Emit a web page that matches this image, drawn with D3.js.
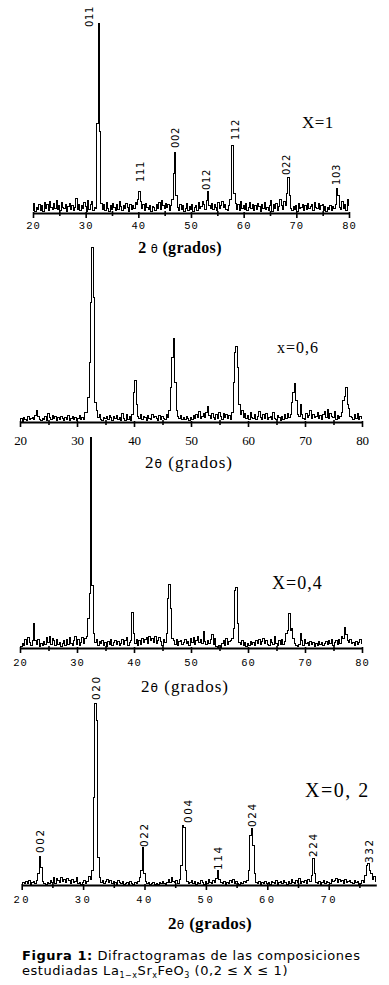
<!DOCTYPE html>
<html>
<head>
<meta charset="utf-8">
<script src="https://cdn.jsdelivr.net/npm/d3@7"></script>
<style>
  html, body { margin: 0; padding: 0; background: #fff; }
  svg { display: block; }
</style>
</head>
<body>
<svg id="chart" width="389" height="985"></svg>
<script>
// ---------------- DATA ----------------
const angleStart = 20;      // 2θ of first sample
const angleStep = 0.25;     // sampling step (degrees)
const tickValuesMajor = [20, 30, 40, 50, 60, 70, 80];
const tickValuesMinor = [25, 35, 45, 55, 65, 75];
const tickValuesMajorX02 = [20, 30, 40, 50, 60, 70];
const tickValuesMinorX02 = [25, 35, 45, 55, 65, 75];

// relative intensities (arbitrary units), one value every 0.25° from 20°
const intensityX1 = [
  3,10,2,6, 4,9,3,8, 2,11,5,9, 3,12,6,4, 10,5,13,4, 8,3,11,6, 5,9,2,7, 10,4,8,3,
  6,15,4,9, 3,8,5,11, 7,2,13,4, 9,12,3,6, 5,90,190,82, 10,4,9,3, 11,5,2,8, 4,10,6,3,
  9,4,12,7, 3,8,5,10, 6,2,9,4, 8,5,11,9, 14,22,12,5, 9,3,10,6, 4,8,2,7, 6,3,9,5,
  11,4,13,8, 5,10,6,9, 3,8,14,40, 61,18,6,3, 9,4,8,2, 5,10,3,7, 4,9,2,6, 8,3,11,5,
  7,12,9,4, 13,22,8,5, 10,4,9,6, 3,11,5,8, 12,6,9,4, 3,8,14,68, 68,20,10,4, 9,3,12,5,
  8,4,10,3, 6,11,5,9, 3,8,4,10, 7,2,9,5, 11,4,6,3, 8,13,2,9, 5,10,3,7, 14,8,4,12,
  8,20,36,18, 5,3,7,4, 8,2,10,5, 6,9,3,8, 4,10,5,7, 9,3,11,6, 5,10,4,8, 9,3,7,2,
  6,4,8,3, 7,5,9,25, 18,6,4,12, 5,9,3,14, 8
];
const intensityX06 = [
  2,4,1,5, 3,2,6,3, 4,5,3,7, 12,6,3,2, 4,3,6,2, 9,5,3,7, 4,6,2,5, 3,6,4,2,
  5,3,7,2, 4,6,3,5, 2,4,7,3, 5,3,10,10, 25,60,120,175, 125,20,12,5, 8,3,2,5, 4,6,3,7,
  5,2,6,4, 7,3,5,2, 9,4,2,8, 3,6,2,8, 30,42,18,6, 4,8,3,6, 5,2,7,4, 3,8,5,6,
  4,2,7,3, 6,4,3,8, 5,12,35,65, 84,40,12,6, 4,7,3,5, 3,6,4,2, 5,3,7,4, 8,5,11,4,
  6,9,5,10, 16,7,4,9, 5,3,8,4, 10,6,3,9, 5,8,4,7, 3,10,40,70, 76,55,18,8, 12,5,9,4,
  7,3,10,5, 4,8,3,6, 11,5,3,8, 4,9,3,5, 6,3,10,4, 3,7,5,2, 6,3,8,4, 9,5,8,20,
  30,39,22,8, 6,18,8,4, 3,9,5,7, 12,4,8,5, 6,10,4,7, 3,8,11,5, 13,4,9,6, 5,11,3,7,
  4,6,10,22, 26,35,18,14, 6,5,3,8, 4,9,3,6, 4
];
const intensityX04 = [
  0,2,5,3, 9,4,11,6, 3,8,25,8, 4,9,2,5, 3,7,4,11, 6,12,4,10, 8,3,9,4, 6,2,5,8,
  3,9,4,11, 5,3,8,12, 4,9,3,6, 11,5,10,12, 30,55,211,63, 15,6,9,3, 7,5,8,3, 6,2,7,4,
  9,3,6,8, 4,7,3,5, 9,4,8,11, 3,6,8,36, 15,5,9,3, 8,4,10,6, 9,11,5,12, 8,10,6,12,
  5,8,11,7, 3,9,6,15, 50,64,40,10, 8,4,9,3, 7,8,4,6, 9,5,7,3, 10,6,11,4, 8,12,6,9,
  5,17,7,4, 8,5,9,14, 4,10,2,0, 3,1,5,8, 3,10,4,7, 8,10,20,58, 61,25,6,4, 8,3,6,2,
  5,3,7,4, 6,3,8,5, 9,4,7,10, 5,8,4,3, 9,6,4,12, 5,3,8,4, 9,4,7,15, 18,35,18,20,
  10,5,3,2, 4,15,8,3, 9,5,6,3, 7,4,6,2, 5,3,7,4, 6,3,5,7, 4,8,5,9, 3,6,8,4,
  9,5,12,10, 21,14,8,6, 9,5,6,3, 7,4,6,9, 5
];
const intensityX02 = [
  1,3,2,4, 2,5,1,3, 4,2,5,12, 29,18,4,2, 1,3,2,5, 3,8,2,7, 5,3,8,4, 6,3,7,5,
  2,6,3,4, 8,2,3,1, 3,5,2,4, 9,6,15,88, 182,165,28,8, 3,5,2,4, 6,3,5,2, 4,3,1,5,
  3,2,4,1, 2,3,1,4, 2,1,3,2, 4,8,15,38, 12,4,2,3, 1,2,3,1, 2,1,3,2, 4,2,1,3,
  6,3,8,4, 3,5,2,6, 20,60,58,15, 4,2,3,5, 2,4,1,3, 2,5,3,1, 4,2,6,3, 2,5,3,7,
  15,6,3,2, 4,1,3,2, 5,3,6,2, 4,2,1,3, 2,4,3,5, 15,50,57,40, 12,3,2,4, 1,3,2,4,
  2,3,1,4, 3,2,5,1, 3,4,2,5, 3,1,4,2, 6,3,2,5, 3,7,2,4, 3,5,2,6, 4,10,27,12,
  3,2,4,1, 3,5,2,4, 3,2,6,4, 5,7,3,6, 4,5,2,6, 3,4,5,3, 2,5,3,4, 1,2,5,3,
  10,20,22,15, 12,6,9,4
];

// Miller-index labels: [text, 2θ, intensity at label foot]
const labelsX1 = [
  ["011", 30.8, 186], ["111", 40.3, 31], ["002", 47.0, 65], ["012", 53.0, 23],
  ["112", 58.4, 73], ["022", 68.2, 38], ["103", 77.7, 28]
];
const labelsX02 = [
  ["002", 23.0, 32], ["020", 32.1, 185], ["022", 39.9, 38], ["004", 47.1, 62],
  ["114", 52.0, 15], ["024", 57.5, 58], ["224", 67.5, 28], ["332", 76.6, 22]
];

const compositionLabels = ["X=1", "x=0,6", "X=0,4", "X=0, 2"];
const axisTitle = "(grados)";

// ---------------- DRAW ----------------
const svg = d3.select("#chart");

const panels = [
  { data: intensityX1, x0: 33, x1: 349, axisY: 213, domainEnd: 80,
    major: tickValuesMajor, minor: tickValuesMinor, tickFont: "mono", tickBase: 17,
    labels: labelsX1, labelStyle: 1,
    comp: compositionLabels[0], compX: 302, compY: 128, compSize: 17, compLS: 0.5,
    titleX: 180, titleY: 253, titleBold: true, titleSpace: true, titleSize: 16 },
  { data: intensityX06, x0: 20, x1: 362, axisY: 422, domainEnd: 80,
    major: tickValuesMajor, minor: tickValuesMinor, tickFont: "serif", tickBase: 22,
    labels: [], comp: compositionLabels[1], compX: 277, compY: 353, compSize: 16, compLS: 1,
    titleX: 189, titleY: 468, titleBold: false, titleSpace: false, titleSize: 17 },
  { data: intensityX04, x0: 20, x1: 362, axisY: 648, domainEnd: 80,
    major: tickValuesMajor, minor: tickValuesMinor, tickFont: "mono", tickBase: 19,
    labels: [], comp: compositionLabels[2], compX: 272, compY: 589, compSize: 18, compLS: 1,
    titleX: 185, titleY: 692, titleBold: false, titleSpace: false, titleSize: 17 },
  { data: intensityX02, x0: 21.7, x1: 390.1, axisY: 885, domainEnd: 77.75,
    major: tickValuesMajorX02, minor: tickValuesMinorX02, tickFont: "monoWide", tickBase: 19,
    labels: labelsX02, labelStyle: 2,
    comp: compositionLabels[3], compX: 305, compY: 797, compSize: 20, compLS: 1.5,
    titleX: 210, titleY: 929, titleBold: true, titleSpace: false, titleSize: 17 }
];

panels.forEach(p => {
  const g = svg.append("g");
  const x = d3.scaleLinear().domain([20, 80]).range([p.x0, p.x1]);
  const y = d3.scaleLinear().domain([0, 100]).range([p.axisY, p.axisY - 100]);

  // pattern line
  const line = d3.line()
    .x((d, i) => x(angleStart + i * angleStep))
    .y(d => y(d))
    .curve(d3.curveStep);
  g.append("path")
    .datum(p.data)
    .attr("d", line)
    .attr("fill", "none")
    .attr("stroke", "#000")
    .attr("stroke-width", 1)
    .attr("shape-rendering", "crispEdges");

  // axis (major)
  const xa = d3.scaleLinear().domain([20, p.domainEnd]).range([x(20), x(p.domainEnd)]);
  const axisMajor = d3.axisBottom(xa).tickValues(p.major).tickSize(5).tickSizeOuter(0)
    .tickFormat(d3.format("d")).tickPadding(p.tickBase - 13);
  const ag = g.append("g").attr("transform", `translate(0,${p.axisY})`).call(axisMajor);
  ag.select(".domain").attr("stroke-width", 2.2).attr("stroke", "#000");
  ag.selectAll(".tick line").attr("stroke-width", 1.6).attr("stroke", "#000").attr("y1", -1);
  const tt = ag.selectAll(".tick text").attr("fill", "#000");
  if (p.tickFont === "mono") {
    tt.attr("font-family", "'Liberation Mono', 'DejaVu Sans Mono', monospace").attr("font-size", 10.5)
      .attr("letter-spacing", 1);
  } else if (p.tickFont === "monoWide") {
    tt.attr("font-family", "'Liberation Mono', 'DejaVu Sans Mono', monospace").attr("font-size", 10.5)
      .attr("letter-spacing", 2.5);
  } else {
    tt.attr("font-family", "'Liberation Serif', serif").attr("font-size", 13)
      .attr("letter-spacing", -0.3);
  }
  // minor ticks
  const axisMinor = d3.axisBottom(xa).tickValues(p.minor).tickSize(3).tickSizeOuter(0).tickFormat("");
  const mg = g.append("g").attr("transform", `translate(0,${p.axisY})`).call(axisMinor);
  mg.select(".domain").remove();
  mg.selectAll(".tick line").attr("stroke-width", 1.6).attr("stroke", "#000").attr("y1", -2);

  // Miller indices
  p.labels.forEach(l => {
    const lx = x(l[1]), ly = y(l[2]);
    g.append("text")
      .attr("transform", `translate(${lx},${ly}) rotate(-90)`)
      .attr("dy", "0.36em")
      .attr("font-family", "'DejaVu Sans', sans-serif")
      .attr("font-size", p.labelStyle === 2 ? 10.5 : 10)
      .attr("letter-spacing", p.labelStyle === 2 ? 1.6 : 0.6)
      .attr("fill", "#000")
      .text(l[0]);
  });

  // composition
  g.append("text")
    .attr("x", p.compX).attr("y", p.compY)
    .attr("font-family", "'Liberation Serif', 'Times New Roman', serif")
    .attr("font-size", p.compSize)
    .attr("letter-spacing", p.compLS)
    .attr("fill", "#000")
    .text(p.comp);

  // axis title
  const t = g.append("text")
    .attr("x", p.titleX).attr("y", p.titleY)
    .attr("text-anchor", "middle")
    .attr("font-family", "'Liberation Serif', 'Times New Roman', serif")
    .attr("font-size", p.titleSize)
    .attr("font-weight", p.titleBold ? "bold" : "normal")
    .attr("letter-spacing", p.titleBold ? 0.3 : 1)
    .attr("fill", "#000");
  t.append("tspan").text(p.titleSpace ? "2 " : "2");
  t.append("tspan").attr("font-family", "'DejaVu Sans', sans-serif")
    .attr("font-weight", "normal").attr("font-size", p.titleSize * 0.72).text("θ");
  t.append("tspan").text(" " + axisTitle);
});

// caption
const cap = svg.append("g").attr("font-family", "'DejaVu Sans', Verdana, sans-serif")
  .attr("font-size", 13).attr("letter-spacing", 0.55).attr("fill", "#000");
const c1 = cap.append("text").attr("x", 22).attr("y", 960);
c1.append("tspan").attr("font-weight", "bold").text("Figura 1:");
c1.append("tspan").text(" Difractogramas de las composiciones");
const c2 = cap.append("text").attr("x", 22).attr("y", 975);
c2.append("tspan").text("estudiadas La");
c2.append("tspan").attr("font-size", 8).attr("dy", 3).text("1−x");
c2.append("tspan").attr("dy", -3).text("Sr");
c2.append("tspan").attr("font-size", 8).attr("dy", 3).text("x");
c2.append("tspan").attr("dy", -3).text("FeO");
c2.append("tspan").attr("font-size", 8).attr("dy", 3).text("3");
c2.append("tspan").attr("dy", -3).text(" (0,2 ≤ X ≤ 1)");
</script>
</body>
</html>
